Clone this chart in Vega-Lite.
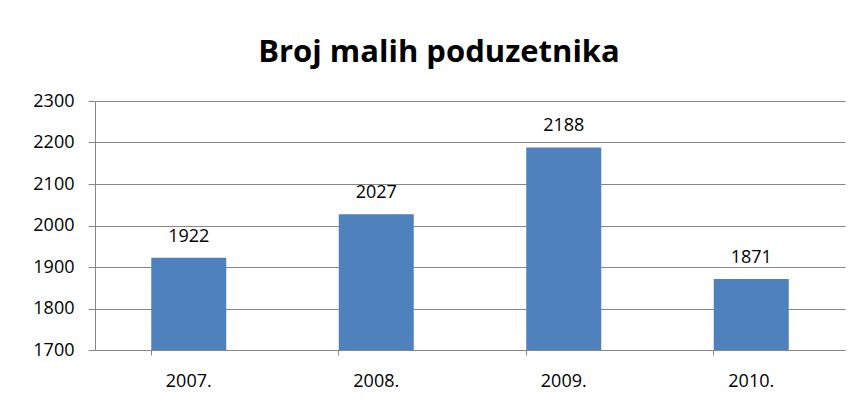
{
  "$schema": "https://vega.github.io/schema/vega-lite/v6.json",
  "width": 750,
  "height": 249,
  "autosize": "none",
  "padding": {"left": 95, "top": 101, "right": 14, "bottom": 62},
  "background": "white",
  "title": {
    "text": "Broj malih poduzetnika",
    "font": "Open Sans",
    "fontWeight": "bold",
    "fontSize": 31,
    "color": "#000000",
    "anchor": "middle",
    "frame": "group",
    "dx": -31,
    "baseline": "alphabetic",
    "offset": -1
  },
  "data": {
    "values": [
      {"godina": "2007.", "broj": 1922},
      {"godina": "2008.", "broj": 2027},
      {"godina": "2009.", "broj": 2188},
      {"godina": "2010.", "broj": 1871}
    ]
  },
  "config": {
    "view": {"stroke": null},
    "font": "Open Sans"
  },
  "encoding": {
    "x": {
      "field": "godina",
      "type": "nominal",
      "sort": null,
      "scale": {"paddingInner": 0.6, "paddingOuter": 0.3},
      "axis": {
        "title": null,
        "labelAngle": 0,
        "labelFont": "Open Sans",
        "labelFontSize": 18,
        "labelColor": "#000000",
        "labelPadding": 17,
        "bandPosition": 0,
        "ticks": true,
        "tickSize": 5,
        "tickColor": "#868686",
        "domainColor": "#868686",
        "domainWidth": 1,
        "grid": false
      }
    },
    "y": {
      "field": "broj",
      "type": "quantitative",
      "scale": {"domain": [1700, 2300], "zero": false, "nice": false},
      "axis": {
        "title": null,
        "values": [1700, 1800, 1900, 2000, 2100, 2200, 2300],
        "format": "d",
        "labelFont": "Open Sans",
        "labelFontSize": 18,
        "labelColor": "#000000",
        "labelPadding": 14,
        "tickSize": 7,
        "tickColor": "#868686",
        "domainColor": "#868686",
        "gridColor": "#868686",
        "gridWidth": 1,
        "grid": true
      }
    }
  },
  "layer": [
    {
      "mark": {"type": "bar", "color": "#4F81BD"},
      "encoding": {"y2": {"datum": 1700}}
    },
    {
      "mark": {"type": "text", "baseline": "alphabetic", "dy": -16, "font": "Open Sans", "fontSize": 18, "color": "#000000"},
      "encoding": {"text": {"field": "broj", "type": "quantitative", "format": "d"}}
    }
  ]
}
